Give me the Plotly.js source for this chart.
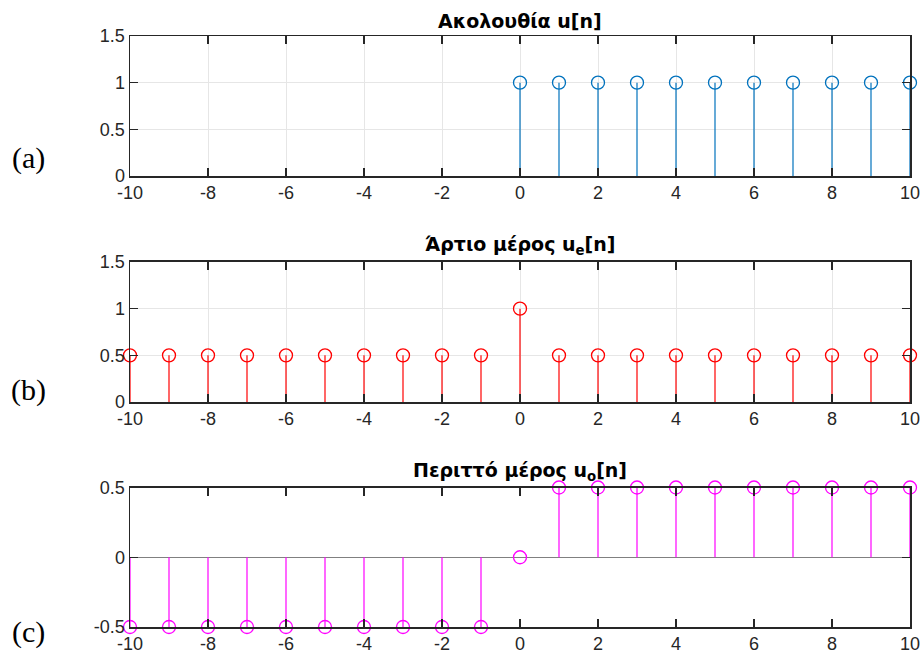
<!DOCTYPE html>
<html><head><meta charset="utf-8">
<script src="https://cdn.plot.ly/plotly-3.0.1.min.js"></script>
<style>html,body{margin:0;padding:0;background:#fff;}#chart{width:922px;height:660px;}</style>
</head><body><div id="chart"></div>
<script>
// Data
const nA = [0,1,2,3,4,5,6,7,8,9,10];
const uA = [1,1,1,1,1,1,1,1,1,1,1];
const nB = [-10,-9,-8,-7,-6,-5,-4,-3,-2,-1,0,1,2,3,4,5,6,7,8,9,10];
const uE = [0.5,0.5,0.5,0.5,0.5,0.5,0.5,0.5,0.5,0.5,1,0.5,0.5,0.5,0.5,0.5,0.5,0.5,0.5,0.5,0.5];
const uO = [-0.5,-0.5,-0.5,-0.5,-0.5,-0.5,-0.5,-0.5,-0.5,-0.5,0,0.5,0.5,0.5,0.5,0.5,0.5,0.5,0.5,0.5,0.5];
const titles = ['Ακολουθία u[n]', 'Άρτιο μέρος u<sub>e</sub>[n]', 'Περιττό μέρος u<sub>o</sub>[n]'];
const panelLabels = ['(a)', '(b)', '(c)'];
const xTicks = [-10,-8,-6,-4,-2,0,2,4,6,8,10];
const xTickText = ['-10','-8','-6','-4','-2','0','2','4','6','8','10'];
const yTicksAB = [0, 0.5, 1, 1.5];
const yTextAB = ['0', '0.5', '1', '1.5'];
const yTicksC = [-0.5, 0, 0.5];
const yTextC = ['-0.5', '0', '0.5'];

function stemTraces(n, v, color, ax) {
  const xs = [], ys = [];
  n.forEach((x, i) => { xs.push(x, x, null); ys.push(0, v[i], null); });
  return [
    {x: xs, y: ys, mode: 'lines', type: 'scatter', line: {color: color, width: 1.2},
     xaxis: 'x' + ax, yaxis: 'y' + ax, hoverinfo: 'skip', showlegend: false, cliponaxis: false},
    {x: n, y: v, mode: 'markers', type: 'scatter',
     marker: {symbol: 'circle-open', size: 13, color: color, line: {width: 1.3, color: color}},
     xaxis: 'x' + ax, yaxis: 'y' + ax, showlegend: false, cliponaxis: false}
  ];
}

const data = [].concat(
  stemTraces(nA, uA, '#0072BD', ''),
  stemTraces(nB, uE, '#FF0000', '2'),
  stemTraces(nB, uO, '#FF00FF', '3')
);

const domains = [[0.7631, 1.0], [0.3807, 0.6176], [0.0, 0.2360]];
const tickFont = {family: 'Liberation Sans, Arial, sans-serif', size: 18, color: '#262626'};

function xax(i, grid) {
  return {domain: [0, 1], anchor: i === 0 ? 'y' : 'y' + (i + 1), range: [-10, 10],
    tickvals: xTicks, ticktext: xTickText, ticks: 'inside', ticklen: 8, tickcolor: '#262626', tickwidth: 1.5,
    showline: true, linecolor: '#262626', linewidth: 1.5, mirror: 'ticks',
    showgrid: grid, gridcolor: '#e6e6e6', gridwidth: 1, zeroline: false,
    tickfont: tickFont, fixedrange: true};
}
function yax(i, range, tv, tt, grid, zl) {
  return {domain: domains[i], anchor: i === 0 ? 'x' : 'x' + (i + 1), range: range,
    tickvals: tv, ticktext: tt, ticks: 'inside', ticklen: 8, tickcolor: '#262626', tickwidth: 1.5,
    showline: true, linecolor: '#262626', linewidth: 1.5, mirror: 'ticks',
    showgrid: grid, gridcolor: '#e6e6e6', gridwidth: 1,
    zeroline: zl, zerolinecolor: '#808080', zerolinewidth: 1.5,
    tickfont: tickFont, fixedrange: true};
}

const annotations = [];
titles.forEach((t, i) => {
  annotations.push({text: '<b>' + t + '</b>', xref: 'paper', yref: 'paper', x: 0.5, y: domains[i][1],
    xanchor: 'center', yanchor: 'bottom', yshift: 2, showarrow: false,
    font: {family: 'DejaVu Sans, sans-serif', size: 19, color: '#000'}});
});
const labelY = [0.7936, 0.401, -0.0085];
panelLabels.forEach((t, i) => {
  annotations.push({text: t, xref: 'paper', yref: 'paper', x: -0.1295, y: labelY[i],
    xanchor: 'center', yanchor: 'middle', showarrow: false,
    font: {family: 'Liberation Serif, serif', size: 30, color: '#000'}});
});

const layout = {
  width: 922, height: 660, paper_bgcolor: '#fff', plot_bgcolor: '#fff',
  margin: {l: 130, r: 12, t: 36, b: 33},
  showlegend: false,
  xaxis: xax(0, true), yaxis: yax(0, [0, 1.5], yTicksAB, yTextAB, true, false),
  xaxis2: xax(1, true), yaxis2: yax(1, [0, 1.5], yTicksAB, yTextAB, true, false),
  xaxis3: xax(2, false), yaxis3: yax(2, [-0.5, 0.5], yTicksC, yTextC, false, true),
  annotations: annotations
};
Plotly.newPlot('chart', data, layout, {staticPlot: true});
</script></body></html>
